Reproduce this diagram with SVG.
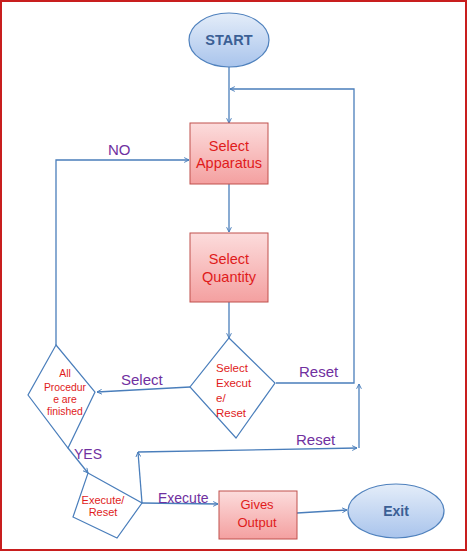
<svg xmlns="http://www.w3.org/2000/svg" width="468" height="552" viewBox="0 0 468 552">
<defs>
<linearGradient id="gBox" x1="0" y1="0" x2="0" y2="1">
<stop offset="0" stop-color="#fcdcdc"/>
<stop offset="1" stop-color="#f4a0a0"/>
</linearGradient>
<linearGradient id="gEll" x1="0" y1="0" x2="0" y2="1">
<stop offset="0" stop-color="#e4edf9"/>
<stop offset="1" stop-color="#a9c4ec"/>
</linearGradient>
<marker id="arr" viewBox="0 0 10 10" refX="9" refY="5" markerWidth="6" markerHeight="6" orient="auto" markerUnits="userSpaceOnUse">
<path d="M1,1 L9,5 L1,9" fill="none" stroke="#4a7ebb" stroke-width="1.6"/>
</marker>
<style>
.box{fill:url(#gBox);stroke:#c0504d;stroke-width:1}
.ell{fill:url(#gEll);stroke:#4f81bd;stroke-width:1.2}
.dia{fill:none;stroke:#4a7ebb;stroke-width:1.2}
.ln{fill:none;stroke:#4a7ebb;stroke-width:1.3}
.ar{marker-end:url(#arr)}
.t{font-family:"Liberation Sans",Arial,sans-serif;fill:#e01b1b;text-anchor:middle}
.tb{font-family:"Liberation Sans",Arial,sans-serif;font-weight:bold;fill:#3b5f95;text-anchor:middle}
.lb{font-family:"Liberation Sans",Arial,sans-serif;fill:#7030a0;font-size:15px}
</style>
</defs>
<rect x="0" y="0" width="468" height="552" fill="#ffffff"/>
<rect x="1" y="1" width="465" height="549" fill="none" stroke="#c81e1e" stroke-width="2"/>

<g id="connectors">
<line class="ln ar" x1="229" y1="67" x2="229" y2="123"/>
<polyline class="ln ar" points="276,383 354,383 354,89 230,89"/>
<line class="ln ar" x1="229" y1="184" x2="229" y2="232"/>
<line class="ln ar" x1="229" y1="302" x2="229" y2="338"/>
<line class="ln ar" x1="190" y1="387" x2="97" y2="392"/>
<polyline class="ln ar" points="56,345 56,160 189,160"/>
<line class="ln ar" x1="68" y1="448" x2="88" y2="473"/>
<line class="ln ar" x1="142" y1="503" x2="218" y2="504"/>
<line class="ln ar" x1="142" y1="503" x2="138" y2="452"/>
<line class="ln ar" x1="138" y1="452" x2="357" y2="448"/>
<line class="ln ar" x1="359" y1="448" x2="359" y2="384"/>
<line class="ln ar" x1="297" y1="513" x2="347" y2="510"/>
<text class="lb" x="299" y="377">Reset</text>
<text class="lb" x="296" y="445">Reset</text>
<text class="lb" x="121" y="385">Select</text>
<text class="lb" x="108" y="155">NO</text>
<text class="lb" x="74" y="459" style="font-size:14px">YES</text>
<text class="lb" x="158" y="503" style="font-size:14px">Execute</text>
</g>

<g id="start">
<ellipse class="ell" cx="229" cy="40" rx="40" ry="27"/>
<text class="tb" x="229" y="45" style="font-size:14.5px">START</text>
</g>

<g id="select-apparatus">
<rect class="box" x="190" y="123" width="78" height="61"/>
<text class="t" x="229" y="151" style="font-size:14.5px">Select</text>
<text class="t" x="229" y="168" style="font-size:14.5px">Apparatus</text>
</g>

<g id="select-quantity">
<rect class="box" x="190" y="233" width="78" height="69"/>
<text class="t" x="229" y="264" style="font-size:14.5px">Select</text>
<text class="t" x="229" y="282" style="font-size:14.5px">Quantity</text>
</g>

<g id="select-execute-reset">
<polygon class="dia" points="229,338 275,383 236,438 190,387"/>
<text class="t" x="216" y="372" style="font-size:11.5px;text-anchor:start">Select</text>
<text class="t" x="216" y="387" style="font-size:11.5px;text-anchor:start">Execut</text>
<text class="t" x="216" y="402" style="font-size:11.5px;text-anchor:start">e/</text>
<text class="t" x="216" y="417" style="font-size:11.5px;text-anchor:start">Reset</text>
</g>

<g id="all-procedure">
<polygon class="dia" points="56,345 95,392 68,448 28,395"/>
<text class="t" x="65" y="377" style="font-size:10.4px">All</text>
<text class="t" x="65" y="391" style="font-size:10.4px">Procedur</text>
<text class="t" x="65" y="403" style="font-size:10.4px">e are</text>
<text class="t" x="65" y="415" style="font-size:10.4px">finished</text>
</g>

<g id="execute-reset">
<polygon class="dia" points="88,473 142,503 117,538 73,517"/>
<text class="t" x="103" y="504" style="font-size:11px">Execute/</text>
<text class="t" x="103" y="516" style="font-size:11px">Reset</text>
</g>

<g id="gives-output">
<rect class="box" x="219" y="491" width="78" height="48"/>
<text class="t" x="257" y="509" style="font-size:13px">Gives</text>
<text class="t" x="257" y="527" style="font-size:13px">Output</text>
</g>

<g id="exit">
<ellipse class="ell" cx="396" cy="511" rx="48" ry="27"/>
<text class="tb" x="396" y="516" style="font-size:14px">Exit</text>
</g>
</svg>
